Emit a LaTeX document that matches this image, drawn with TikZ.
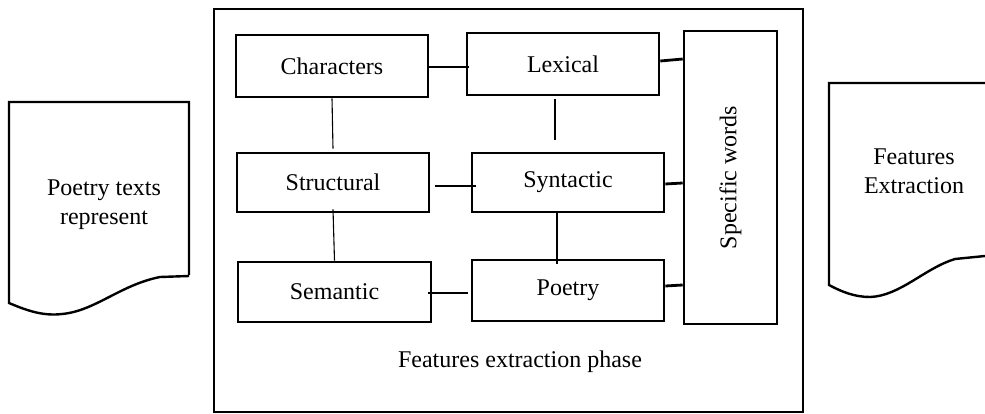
\documentclass[tikz,border=0pt]{standalone}
\usepackage{fontspec}
\setmainfont{Liberation Serif}
\begin{document}
\begin{tikzpicture}[x=1pt,y=-1pt,
  font=\fontsize{24}{29}\selectfont,
  box/.style={draw, line width=2.6pt, minimum width=192pt, minimum height=60pt, inner sep=0pt},
  doc/.style={draw, line width=2.4pt, line join=miter},
  thinlink/.style={line width=1.1pt},
  thicklink/.style={line width=2.8pt},
  txt/.style={align=center, inner sep=0pt}]
\useasboundingbox (0,0) rectangle (985,414);
% outer phase frame
\draw[line width=2.4pt] (214,9) rectangle (803,412);
\node[txt] (cap) at (520,362) {Features extraction phase};
% left document
\draw[doc] (189,275) -- (189,102) -- (9,102) -- (9,303)
  .. controls (30,312) and (45,316) .. (62,314)
  .. controls (95,311) and (120,285) .. (160,277) -- (189,276);
\node[txt] (poem) at (104,205) {Poetry texts\\represent};
% right document (cut by the page edge)
\draw[doc] (995,83) -- (829,83) -- (829,285)
  .. controls (842,292) and (855,297) .. (870,297)
  .. controls (900,296) and (925,268) .. (955,259) -- (995,255);
\node[txt] (fext) at (914,171) {Features\\Extraction};
% feature boxes
\node[box, minimum height=62pt] (ch) at (332,66) {Characters};
\node[box, minimum height=62pt] (lx) at (563,64) {Lexical};
\node[box, minimum height=59pt] (st) at (333,182.5) {Structural};
\node[box, minimum height=59pt] (sy) at (568,182.5) {Syntactic};
\node[box, minimum width=193pt] (se) at (334.5,292) {Semantic};
\node[box, minimum height=61pt] (po) at (568,290.5) {Poetry};
\node[box, minimum width=93pt, minimum height=293pt] (sw) at (730.5,177.5) {};
\node[txt, rotate=90] (swt) at (sw.center) {Specific words};
% connectors
\draw[thinlink] (ch.east |- 0,67) -- ([xshift=3pt]lx.west |- 0,67);
\draw[thinlink] (ch.south) -- ([yshift=3pt]st.north);
\draw[thinlink] ([xshift=5pt]st.east |- 0,186) -- ([xshift=5pt]sy.west |- 0,186);
\draw[thinlink] ([yshift=4pt]st.south) -- (se.north);
\draw[thinlink] ([xshift=-4pt]se.east |- 0,293) -- ([xshift=-3pt]po.west |- 0,293);
\draw[thinlink] ([xshift=-8pt,yshift=-3pt]lx.south) -- ([xshift=-13pt,yshift=12pt]sy.north);
\draw[thinlink] ([xshift=-11pt]sy.south) -- ([xshift=-11pt,yshift=-5pt]po.north);
\draw[thicklink] (lx.east |- 0,61) -- (sw.west |- 0,59);
\draw[thicklink] (sy.east |- 0,184) -- (sw.west |- 0,183);
\draw[thicklink] (po.east |- 0,286) -- (sw.west |- 0,285);
\end{tikzpicture}
\end{document}
